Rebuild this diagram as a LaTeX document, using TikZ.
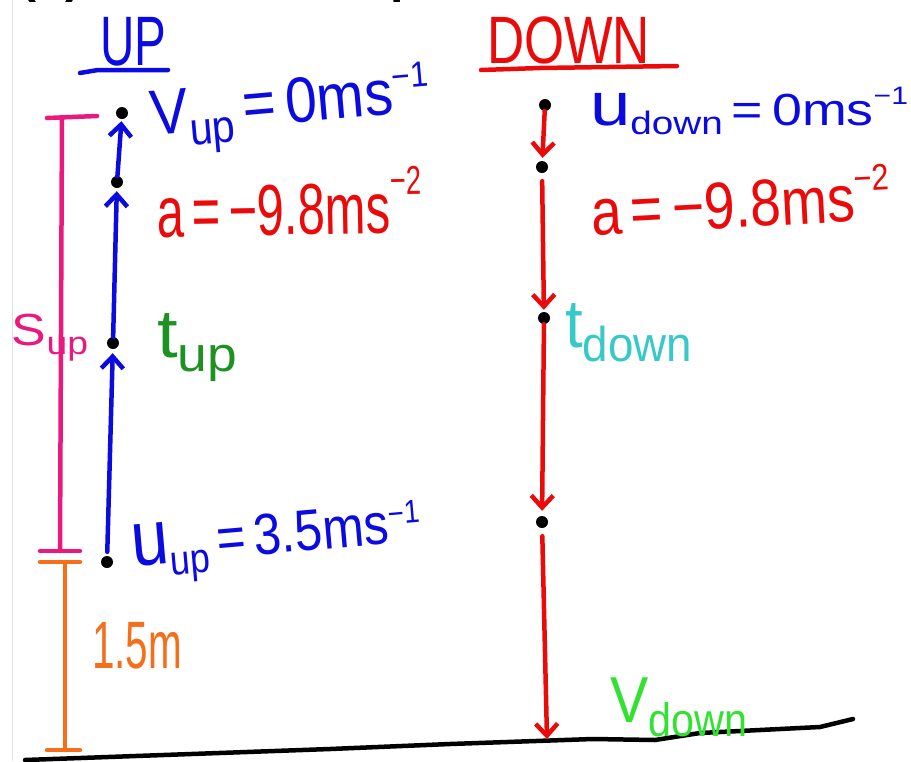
\documentclass[tikz,border=0pt]{standalone}
\usepackage{fontspec}
\setmainfont{Liberation Sans}
\usepackage{graphicx}
\usetikzlibrary{arrows.meta}
\definecolor{hblue}{RGB}{10,10,225}
\definecolor{hred}{RGB}{235,10,10}
\definecolor{hpink}{RGB}{235,25,125}
\definecolor{horange}{RGB}{245,110,25}
\definecolor{hgreen}{RGB}{30,145,35}
\definecolor{hcyan}{RGB}{55,200,200}
\definecolor{hlime}{RGB}{50,225,50}
\newcommand\lo[1]{\raisebox{-0.22em}{\scalebox{0.72}{#1}}}
\newcommand\hi[2]{\raisebox{#1em}{\scalebox{0.56}{#2}}}
\newcommand\hw[3]{\resizebox{#1pt}{\height}{\fontsize{#2}{#2}\selectfont #3}}
\newcommand\bu{\scalebox{1.35}{u}}
\newcommand\mn{\char"2212\relax}
\begin{document}
\begin{tikzpicture}[x=1pt,y=-1pt,
  dot/.style={circle,fill=black,inner sep=0pt,minimum size=12pt},
  lbl/.style={inner sep=0pt,outer sep=0pt,anchor=base west},
  stroke/.style={line width=4.5pt,line cap=round,line join=round},
  tip/.style={-{Straight Barb[length=12pt,width=22pt]}},
]
\useasboundingbox (0,0) rectangle (911,761);
% page artefacts
\begin{scope}
\clip (0,0) rectangle (911,761);
\coordinate (e1) at (12,0);
\coordinate (e2) at (12,761);
\draw[black!12,line width=1pt] (e1) -- (e2);
\node[lbl,font=\fontsize{48}{48}\selectfont\bfseries] (frag1) at (20,-8) {(b)};
\node[lbl,font=\fontsize{48}{48}\selectfont\bfseries] (frag2) at (390,-8) {p};
\end{scope}

% headings
\node[lbl,text=hblue] (tUP) at (100,65) {\hw{66}{70}{UP}};
\node[lbl,text=hred] (tDOWN) at (487,63) {\hw{163}{67}{DOWN}};
\coordinate (ul1) at (80,73); \coordinate (ul2) at (98,70); \coordinate (ul3) at (168,70);
\draw[stroke,hblue] (ul1) -- (ul2) -- (ul3);
\coordinate (dl1) at (481,70); \coordinate (dl2) at (540,68); \coordinate (dl3) at (677,66);
\draw[stroke,hred] (dl1) -- (dl2) -- (dl3);

% ground
\coordinate (g1) at (25,760);
\coordinate (g2) at (330,749);
\coordinate (g3) at (450,744);
\coordinate (g4) at (593,739);
\coordinate (g5) at (655,740);
\coordinate (g6) at (700,733);
\coordinate (g7) at (820,727);
\coordinate (g8) at (853,719);
\draw[stroke,black] (g1) -- (g2) -- (g3) -- (g4) -- (g5) -- (g6) -- (g7) -- (g8);

% pink dimension S_up
\coordinate (sT) at (62,117);
\coordinate (sB) at (60,551);
\coordinate (sT1) at (47,118); \coordinate (sT2) at (97,116);
\coordinate (sB1) at (40,551); \coordinate (sB2) at (80,551);
\draw[stroke,hpink] (sT) -- (sB);
\draw[stroke,hpink] (sT1) -- (sT2);
\draw[stroke,hpink] (sB1) -- (sB2);
\node[lbl,text=hpink] (slab) at (12,345) {\hw{76}{45}{S\lo{up}}};

% orange dimension 1.5 m
\coordinate (oT) at (65,562);
\coordinate (oB) at (65,750);
\coordinate (oT1) at (40,562); \coordinate (oT2) at (80,562);
\coordinate (oB1) at (47,750); \coordinate (oB2) at (80,750);
\draw[stroke,horange] (oT) -- (oB);
\draw[stroke,horange] (oT1) -- (oT2);
\draw[stroke,horange] (oB1) -- (oB2);
\node[lbl,text=horange] (len) at (92,668) {\hw{90}{67}{1.5m}};

% UP motion
\node[dot] (u0) at (107,562) {};
\node[dot] (u1) at (113,343) {};
\node[dot] (u2) at (117,182) {};
\node[dot] (u3) at (122,113) {};
\draw[stroke,hblue,tip,shorten <=4pt,shorten >=4pt] (u0) -- (u1);
\draw[stroke,hblue,tip,shorten >=3pt] (u1) -- (u2);
\draw[stroke,hblue,tip,shorten >=2pt] (u2) -- (u3);

% DOWN motion
\node[dot] (d0) at (545,105) {};
\node[dot] (d1) at (542,167) {};
\node[dot] (d2) at (544,318) {};
\node[dot] (d3) at (542,522) {};
\coordinate (gnd) at (547,739);
\draw[stroke,hred,tip,shorten >=3pt] (d0) -- (d1);
\draw[stroke,hred,tip,shorten <=8pt,shorten >=2pt] (d1) -- (d2);
\draw[stroke,hred,tip,shorten >=5pt] (d2) -- (d3);
\draw[stroke,hred,tip,shorten <=8pt] (d3) -- (gnd);

% labels
\node[lbl,text=hblue,rotate=5] (vup) at (152,135) {\hw{280}{64}{V\lo{up}\,=\,0ms\hi{0.38}{\mn1}}};
\node[lbl,text=hred,rotate=1] (aup) at (157,237) {\hw{265}{72}{a\,=\,\mn9.8ms\hi{0.53}{\mn2}}};
\node[lbl,text=hgreen] (tup) at (157,357) {\hw{80}{68}{t\lo{up}}};
\node[lbl,text=hblue,rotate=5] (uup) at (133,566) {\hw{290}{58}{\bu\lo{up}\,=\,3.5ms\hi{0.32}{\mn1}}};
\node[lbl,text=hblue] (udown) at (590,125) {\hw{318}{45}{\bu\lo{down}\,=\,0ms\hi{0.45}{\mn1}}};
\node[lbl,text=hred,rotate=3] (adown) at (592,235) {\hw{300}{66}{a\,=\,\mn9.8ms\hi{0.45}{\mn2}}};
\node[lbl,text=hcyan] (tdown) at (565,347) {\hw{127}{68}{t\lo{down}}};
\node[lbl,text=hlime] (vdown) at (610,722) {\hw{137}{65}{V\lo{down}}};
\end{tikzpicture}
\end{document}
